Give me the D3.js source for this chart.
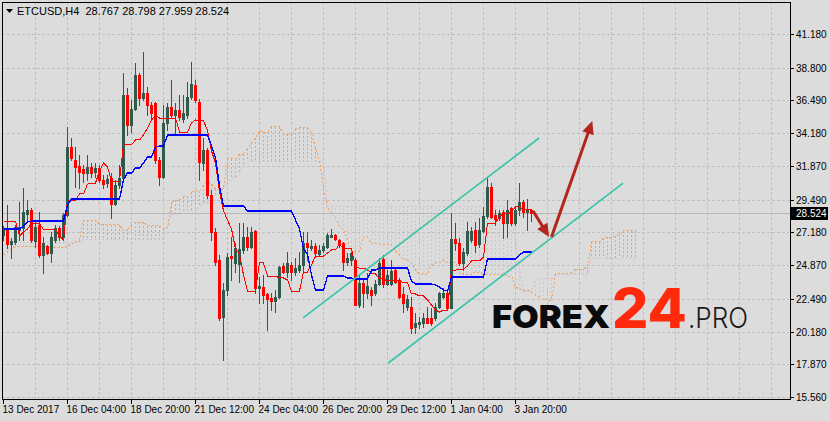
<!DOCTYPE html>
<meta charset="utf-8">
<style>
  body { margin: 0; background: #dcdcdc; }
  svg { display: block; font-family: "Liberation Sans", Arial, sans-serif; }
</style>
<body>

<!-- load the d3.js library -->
<script src="https://d3js.org/d3.v7.min.js"></script>
<script>
// ETCUSD H4 candles, one value per bar
var open = [26.99,27.34,26.35,26.49,27.34,27.48,28.47,28.76,26.57,27.70,
  25.58,26.21,25.72,26.64,27.48,26.85,28.40,33.20,32.29,31.86,
  31.65,31.37,31.79,31.44,31.72,30.88,30.66,31.02,29.18,30.52,
  31.02,36.87,34.76,35.89,38.29,36.66,37.02,36.17,36.31,32.29,
  31.09,34.90,36.03,35.46,35.82,35.18,35.46,36.73,37.58,36.38,
  32.07,32.99,29.81,27.20,25.22,21.20,23.11,25.51,25.01,24.94,
  25.93,26.85,26.14,27.27,23.25,23.32,22.82,22.54,22.33,22.61,
  24.80,24.38,24.87,24.38,24.52,24.87,26.42,26.07,26.21,25.65,
  25.93,26.14,26.85,26.99,26.64,26.42,25.08,25.22,25.22,22.05,
  23.60,22.89,23.11,22.89,23.53,25.30,23.53,23.53,24.52,23.74,
  22.82,21.91,21.91,20.50,20.71,20.78,21.13,21.13,21.13,21.91,
  22.61,22.89,21.84,26.71,26.42,25.01,25.72,26.64,27.34,26.35,
  27.27,28.33,30.38,28.40,28.19,28.61,27.84,28.90,27.84,28.76,
  29.32,28.61,28.767];
var high = [27.63,29.11,26.78,27.70,29.32,30.31,29.46,28.90,27.91,28.61,
  26.85,26.28,27.20,27.70,27.63,28.54,34.62,33.84,33.20,32.64,
  31.93,32.64,32.07,32.07,31.93,31.23,31.23,31.37,30.88,31.93,
  38.43,37.37,36.52,39.13,38.43,39.91,37.44,36.38,36.38,32.50,
  36.17,36.31,37.93,36.31,36.87,36.87,37.79,39.20,37.93,36.59,
  33.84,33.13,30.17,27.48,25.58,23.60,25.72,26.85,26.42,27.84,
  27.84,27.56,27.56,27.34,24.02,24.17,22.89,22.89,23.11,24.80,
  25.01,25.79,25.08,25.37,25.79,27.20,27.20,26.64,26.42,26.28,
  26.42,27.13,27.41,27.06,26.71,26.49,25.72,25.79,25.37,24.17,
  23.81,24.31,23.32,23.81,25.37,25.58,24.52,25.22,24.66,23.95,
  23.32,22.75,22.61,21.48,21.20,21.48,21.91,21.84,22.19,22.97,
  23.25,23.04,28.54,27.84,26.78,26.07,27.91,27.56,27.91,28.19,
  28.97,31.09,30.66,28.76,28.76,28.76,29.46,28.97,28.97,30.66,
  29.46,29.53,28.798];
var low = [26.64,26.07,25.37,26.35,26.64,26.64,28.05,26.49,26.14,25.44,
  24.31,25.65,25.08,26.49,26.64,26.64,28.33,32.29,30.38,30.31,
  30.73,30.88,31.09,31.09,30.73,30.31,30.38,28.19,29.11,30.31,
  31.02,34.05,34.26,35.82,36.17,36.52,35.46,35.25,32.07,30.52,
  31.02,34.40,35.32,34.05,35.11,34.97,35.25,36.59,36.38,30.88,
  31.58,29.60,26.64,24.87,20.99,18.16,22.75,23.81,24.38,23.67,
  25.72,25.93,26.07,22.89,22.19,22.19,20.28,21.69,21.55,22.54,
  24.31,24.02,23.81,24.17,24.38,24.38,25.22,25.93,25.44,25.51,
  25.79,26.07,26.85,26.64,26.14,24.52,24.87,24.87,22.05,21.91,
  21.91,22.54,22.05,22.75,23.46,23.32,23.46,23.46,23.60,22.54,
  21.55,21.69,20.07,20.07,20.42,20.50,20.78,20.64,20.99,21.84,
  22.54,21.77,21.84,25.93,24.87,24.52,25.58,26.49,25.79,26.14,
  27.20,28.19,28.19,27.70,28.05,26.78,26.85,27.70,27.70,28.40,
  28.26,27.34,27.959];
var close = [27.48,26.35,26.57,27.56,27.56,28.61,28.76,26.64,27.56,25.58,
  26.42,25.72,26.85,27.48,26.85,28.40,33.20,32.43,31.79,31.44,
  31.37,31.79,31.37,31.72,30.88,30.59,30.95,29.18,30.52,31.02,
  36.87,34.76,35.89,38.29,36.66,37.02,36.17,35.60,32.29,31.09,
  34.90,36.03,35.46,35.82,35.32,35.60,36.73,37.65,36.52,32.14,
  32.99,29.81,27.20,25.08,21.13,23.11,25.44,25.37,26.07,26.00,
  26.85,26.14,27.20,23.25,23.39,22.75,22.47,22.33,22.61,24.73,
  24.38,25.01,24.38,24.66,24.87,26.42,26.14,26.21,25.72,25.93,
  26.21,26.99,26.99,26.71,26.28,25.08,25.37,25.72,22.05,23.60,
  22.89,23.39,22.75,23.53,25.01,23.53,24.17,24.45,23.67,22.61,
  22.19,22.47,20.42,20.78,20.85,21.13,20.78,20.78,21.91,22.89,
  22.89,21.84,26.71,26.42,25.01,25.79,27.27,27.27,26.28,27.34,
  28.33,30.38,28.26,28.12,28.54,27.84,28.76,27.84,28.76,29.32,
  28.61,28.76,28.524];

// ichimoku lines as they appear on the chart
var tenkan = [27.98,27.98,27.98,27.98,26.92,27.21,27.42,27.84,27.84,27.84,
  27.35,27.35,27.35,27.35,26.92,26.64,29.46,29.46,29.46,29.89,
  29.89,30.59,30.66,30.66,31.51,32.08,31.79,30.80,30.80,30.80,
  33.35,33.35,33.35,33.70,33.70,34.05,34.55,35.11,35.46,35.25,
  35.25,35.25,35.25,35.25,34.26,34.26,34.26,34.90,35.11,35.04,
  35.04,34.40,32.92,32.08,30.10,28.69,28.05,27.42,26.01,25.65,
  24.17,23.04,23.04,23.04,25.02,25.02,24.10,24.10,24.10,23.96,
  23.96,23.82,23.04,23.04,23.04,24.38,24.38,24.88,25.51,25.51,
  25.51,25.72,25.94,25.94,26.36,26.01,26.01,26.01,24.74,24.66,
  24.66,24.52,24.31,24.24,23.89,23.89,23.75,23.75,23.75,23.82,
  23.61,23.61,22.83,22.83,22.69,22.69,22.41,22.05,21.70,21.56,
  21.70,21.70,24.52,24.52,24.59,24.59,24.81,25.16,25.16,25.16,
  25.44,27.84,27.84,27.84,28.33,28.48,28.48,28.62,28.97,28.97,
  28.76,28.76,28.76];
var kijun = [27.42,27.42,27.42,27.42,27.42,27.63,27.91,27.98,27.98,27.98,
  27.98,27.98,27.98,27.98,27.98,27.98,29.11,29.53,29.53,29.53,
  29.53,29.53,29.53,29.53,29.53,29.53,29.53,29.53,29.53,29.53,
  30.88,31.37,31.37,31.72,31.72,32.08,32.50,32.50,33.20,33.28,
  33.28,34.05,34.05,34.05,34.05,34.05,34.05,34.05,34.05,34.05,
  34.05,34.05,33.28,32.43,30.45,29.04,29.04,29.04,29.04,29.04,
  29.04,28.69,28.69,28.69,28.69,28.69,28.69,28.69,28.69,28.69,
  28.69,28.69,28.69,28.05,27.42,26.01,25.65,24.17,23.11,23.11,
  23.11,24.10,24.10,24.10,24.10,24.10,23.96,23.96,23.89,23.89,
  23.89,23.89,24.52,24.52,24.66,24.66,24.66,24.66,24.66,24.66,
  24.66,24.66,23.75,23.54,23.54,23.54,23.54,23.54,23.46,23.32,
  23.11,23.04,24.03,24.03,24.03,24.03,24.03,24.03,24.03,24.03,
  24.03,25.30,25.30,25.30,25.30,25.30,25.30,25.30,25.30,25.58,
  25.79,25.79,25.79];
// cloud edges, they run 26 bars past the last candle
var spanA = [25.58,25.79,26.01,26.15,26.15,26.15,26.15,26.15,26.15,26.15,
  26.15,26.15,26.08,26.08,26.08,26.08,26.22,26.36,26.50,26.64,
  28.05,28.05,28.05,28.05,27.77,27.77,27.70,27.70,27.70,27.70,
  27.21,27.42,27.70,27.91,27.91,27.91,27.63,27.63,27.63,27.63,
  27.42,27.49,29.32,29.46,29.46,29.68,29.68,30.03,30.10,30.10,
  30.52,30.73,30.59,30.24,30.24,30.24,32.36,32.36,32.36,32.71,
  32.71,33.06,33.49,33.84,34.33,34.26,34.26,34.62,34.62,34.62,
  34.12,34.12,34.12,34.48,34.55,34.55,34.55,34.19,33.13,32.22,
  30.31,28.90,28.55,28.19,27.56,27.35,26.64,25.86,25.86,25.86,
  26.85,26.85,26.36,26.36,26.36,26.29,26.29,26.29,25.86,25.58,
  25.23,25.23,25.02,24.52,24.24,24.24,24.24,24.88,25.02,25.02,
  25.23,25.02,25.02,25.02,24.31,24.24,24.24,24.24,24.38,24.38,
  24.24,24.24,24.24,24.24,24.24,24.24,24.10,24.10,23.32,23.18,
  23.11,23.11,22.97,22.76,22.62,22.41,22.41,22.34,24.24,24.31,
  24.31,24.31,24.38,24.59,24.59,24.59,24.74,26.50,26.50,26.50,
  26.78,26.85,26.85,26.92,27.06,27.28,27.28,27.28,27.28];
var spanB = [25.72,25.86,26.01,26.43,26.43,26.43,26.43,26.43,26.43,26.43,
  26.43,26.43,26.43,26.43,26.43,26.43,26.43,26.43,26.43,26.43,
  26.71,26.71,26.71,26.71,26.71,26.71,26.71,26.71,26.71,26.71,
  26.71,26.71,26.71,26.71,26.71,26.71,26.71,26.71,26.71,26.71,
  26.71,27.70,28.41,28.41,28.41,28.69,28.69,28.69,28.69,28.97,
  29.25,29.25,29.25,29.82,29.82,30.52,30.52,31.02,31.02,31.44,
  31.93,32.15,32.15,32.15,32.15,32.15,32.15,32.15,32.15,32.15,
  32.15,32.15,32.15,32.15,32.15,32.15,32.15,32.15,32.15,32.15,
  32.15,29.04,29.04,29.04,29.04,29.04,29.04,29.04,29.04,29.04,
  29.04,29.04,29.04,29.04,29.04,29.04,29.04,29.04,29.04,29.04,
  29.04,29.04,29.04,29.04,29.04,29.04,29.04,29.04,29.04,29.04,
  29.04,29.04,29.04,29.04,29.04,29.04,29.04,29.04,29.04,29.04,
  29.04,29.04,29.04,29.04,29.04,29.04,29.04,28.41,26.64,24.66,
  23.04,23.04,23.04,23.89,23.89,23.89,23.89,23.89,24.24,24.24,
  24.24,24.24,24.24,24.24,24.24,24.24,24.24,25.37,25.37,25.37,
  25.37,25.37,25.37,25.37,25.37,25.37,25.37,25.37,25.37];

// axis labels
var priceTicks = [41.18, 38.80, 36.49, 34.18, 31.87, 29.49, 27.18, 24.87, 22.49, 20.18, 17.87, 15.56];
var dateLabels = ["13 Dec 2017", "16 Dec 04:00", "18 Dec 20:00", "21 Dec 12:00", "24 Dec 04:00",
  "26 Dec 20:00", "29 Dec 12:00", "1 Jan 04:00", "3 Jan 20:00"];
var dateBars = [0, 16, 32, 48, 64, 80, 96, 112, 128];
var symbol = "ETCUSD,H4";

// hand drawn objects, in [bar, price]
var channel = [[[74.9, 21.14], [133.9, 33.84]], [[96.2, 17.96], [154.9, 30.66]]];
var arrows = [[[132.4, 28.69], [136.4, 26.85]], [[137.0, 26.85], [147.2, 35.04]]];

// set the dimensions of the chart
var W = 830, H = 421;
var plot = {left: 2, top: 2, right: 790, bottom: 399};

var x = d3.scaleLinear().domain([0, 158]).range([3.5, 635.5]);
var y = d3.scaleLinear().domain([15.56, 41.18]).range([397, 34]);
function py(v) { return Math.round(y(v)) + 0.5; }

var svg = d3.select("body").append("svg")
    .attr("width", W)
    .attr("height", H);
svg.append("rect").attr("width", W).attr("height", H).attr("fill", "#dcdcdc");

svg.append("defs").append("clipPath").attr("id", "clip")
  .append("rect")
    .attr("x", plot.left + 1).attr("y", plot.top + 1)
    .attr("width", plot.right - plot.left - 1).attr("height", plot.bottom - plot.top - 1);

// grid
var grid = svg.append("g")
    .attr("stroke", "#c0c0c0")
    .attr("stroke-dasharray", "3,2");
grid.selectAll(".hg").data(priceTicks).enter().append("line")
    .attr("x1", plot.left).attr("x2", plot.right)
    .attr("y1", py).attr("y2", py);
var vBars = d3.range(8, 200, 8).filter(function(i) { return x(i) < plot.right; });
grid.selectAll(".vg").data(vBars).enter().append("line")
    .attr("x1", function(i) { return x(i); }).attr("x2", function(i) { return x(i); })
    .attr("y1", plot.top).attr("y2", plot.bottom);

var chart = svg.append("g").attr("clip-path", "url(#clip)");

// cloud hatch, one dotted stroke per bar
var cloud = spanA.map(function(a, j) { return {j: j, a: a, b: spanB[j]}; })
    .filter(function(d) { return Math.abs(d.a - d.b) > 0.001; });
chart.selectAll(".hatch").data(cloud).enter().append("line")
    .attr("x1", function(d) { return x(d.j); })
    .attr("x2", function(d) { return x(d.j); })
    .attr("y1", function(d) { return Math.round(y(d.a)); })
    .attr("y2", function(d) { return Math.round(y(d.b)); })
    .attr("stroke", function(d) { return d.a >= d.b ? "#f4a460" : "#d8bfd8"; })
    .attr("stroke-dasharray", "2,2");

var lineOf = d3.line().x(function(d, i) { return x(i); }).y(function(d) { return y(d); });
chart.append("path").attr("d", lineOf(spanB))
    .attr("fill", "none").attr("stroke", "#d8bfd8").attr("stroke-dasharray", "2,2")
    .attr("shape-rendering", "crispEdges");
chart.append("path").attr("d", lineOf(spanA))
    .attr("fill", "none").attr("stroke", "#f4a460").attr("stroke-dasharray", "2,2")
    .attr("shape-rendering", "crispEdges");

// last price line
var last = close[close.length - 1];
chart.append("line")
    .attr("x1", plot.left).attr("x2", plot.right)
    .attr("y1", py(last)).attr("y2", py(last))
    .attr("stroke", "#b8b8b8");

// candles
var bars = d3.range(open.length).map(function(i) {
  return {i: i, o: open[i], h: high[i], l: low[i], c: close[i], up: close[i] >= open[i]};
});
var candle = chart.selectAll(".candle").data(bars).enter().append("g");
candle.append("line")
    .attr("x1", function(d) { return x(d.i); })
    .attr("x2", function(d) { return x(d.i); })
    .attr("y1", function(d) { return Math.round(y(d.h)); })
    .attr("y2", function(d) { return Math.round(y(d.l)) + 1; })
    .attr("stroke", function(d) { return d.up ? "#2f5a4c" : "#ff0000"; });
candle.append("rect")
    .attr("x", function(d) { return x(d.i) - 1.5; })
    .attr("width", 3)
    .attr("y", function(d) { return Math.round(y(Math.max(d.o, d.c))); })
    .attr("height", function(d) { return Math.max(1, Math.round(y(Math.min(d.o, d.c))) - Math.round(y(Math.max(d.o, d.c))) + 1); })
    .attr("fill", function(d) { return d.up ? "#2f5a4c" : "#ff0000"; });

// tenkan and kijun
chart.append("path").attr("d", lineOf(tenkan))
    .attr("fill", "none").attr("stroke", "#ff0000").attr("stroke-width", 1)
    .attr("shape-rendering", "crispEdges");
chart.append("path").attr("d", lineOf(kijun))
    .attr("fill", "none").attr("stroke", "#0000ff").attr("stroke-width", 1.3)
    .attr("shape-rendering", "crispEdges");

// channel
chart.selectAll(".chan").data(channel).enter().append("line")
    .attr("x1", function(d) { return x(d[0][0]); })
    .attr("y1", function(d) { return y(d[0][1]); })
    .attr("x2", function(d) { return x(d[1][0]); })
    .attr("y2", function(d) { return y(d[1][1]); })
    .attr("stroke", "#35c4a8").attr("stroke-width", 1.6);

// arrows, head drawn as a triangle at the end
arrows.forEach(function(a) {
  var x0 = x(a[0][0]), y0 = y(a[0][1]), x1 = x(a[1][0]), y1 = y(a[1][1]);
  var len = Math.hypot(x1 - x0, y1 - y0), ux = (x1 - x0) / len, uy = (y1 - y0) / len;
  chart.append("line")
      .attr("x1", x0).attr("y1", y0)
      .attr("x2", x1 - ux * 9).attr("y2", y1 - uy * 9)
      .attr("stroke", "#b3261e").attr("stroke-width", 3);
  var bx = x1 - ux * 13, by = y1 - uy * 13;
  chart.append("path")
      .attr("d", "M" + x1 + "," + y1 + "L" + (bx - uy * 6) + "," + (by + ux * 6) +
                 "L" + (bx + uy * 6) + "," + (by - ux * 6) + "Z")
      .attr("fill", "#b3261e");
});

// frame
svg.append("rect")
    .attr("x", plot.left + 0.5).attr("y", plot.top + 0.5)
    .attr("width", plot.right - plot.left).attr("height", plot.bottom - plot.top)
    .attr("fill", "none").attr("stroke", "#000");

// price axis on the right
var pa = svg.append("g").attr("font-size", "10px");
pa.selectAll("line").data(priceTicks).enter().append("line")
    .attr("x1", plot.right).attr("x2", plot.right + 4)
    .attr("y1", py).attr("y2", py).attr("stroke", "#000");
pa.selectAll("text").data(priceTicks).enter().append("text")
    .attr("x", plot.right + 6).attr("y", function(d) { return py(d) + 3.5; })
    .text(d3.format(".3f"));

// last price box
svg.append("rect")
    .attr("x", plot.right + 1).attr("y", py(last) - 6.5)
    .attr("width", 37).attr("height", 13).attr("fill", "#000");
svg.append("text")
    .attr("x", plot.right + 6).attr("y", py(last) + 3.5)
    .attr("font-size", "10px").attr("fill", "#fff")
    .text(d3.format(".3f")(last));

// time axis
var ta = svg.append("g").attr("font-size", "10px");
ta.selectAll("line").data(dateBars).enter().append("line")
    .attr("x1", function(d) { return x(d); }).attr("x2", function(d) { return x(d); })
    .attr("y1", plot.bottom).attr("y2", plot.bottom + 5).attr("stroke", "#000");
ta.selectAll("text").data(dateLabels).enter().append("text")
    .attr("x", function(d, k) { return x(dateBars[k]) - 1; })
    .attr("y", 413)
    .text(function(d) { return d; });

// header
var n = close.length - 1, f3 = d3.format(".3f");
svg.append("path").attr("d", "M6,9L13,9L9.5,13Z").attr("fill", "#000");
svg.append("text")
    .attr("x", 17).attr("y", 15)
    .attr("font-size", "11px")
    .style("white-space", "pre")
    .text(symbol + "  " + [open[n], high[n], low[n], close[n]].map(f3).join(" "));

// watermark
var wm = svg.append("g").attr("font-family", "Inter, 'Open Sans', sans-serif");
wm.append("text").attr("x", 492).attr("y", 328)
    .attr("font-size", 32).attr("font-weight", 900).attr("fill", "#0a0a0a")
    .attr("textLength", 118).attr("lengthAdjust", "spacingAndGlyphs")
    .text("FOREX");
wm.append("text").attr("x", 612).attr("y", 328)
    .attr("font-size", 55).attr("font-weight", 800).attr("fill", "#ff2a0c")
    .attr("textLength", 75).attr("lengthAdjust", "spacingAndGlyphs")
    .text("24");
wm.append("text").attr("x", 688).attr("y", 328)
    .attr("font-size", 28).attr("font-weight", 300).attr("fill", "#1a1a1a")
    .attr("textLength", 60).attr("lengthAdjust", "spacingAndGlyphs")
    .text(".PRO");
</script>
</body>
